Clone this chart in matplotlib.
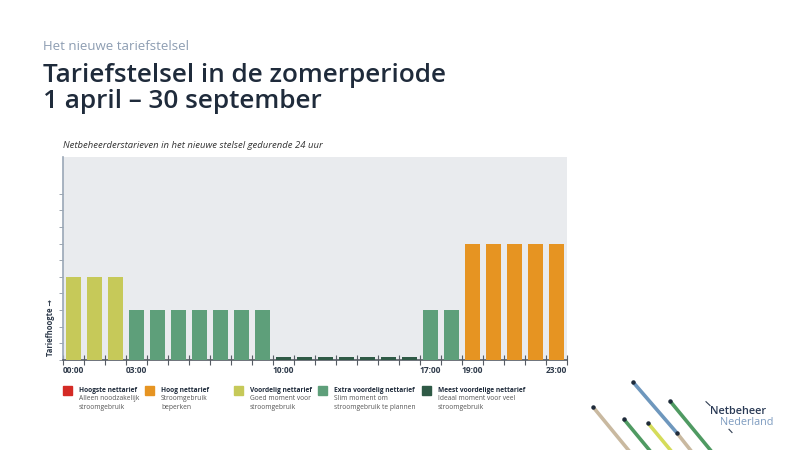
import matplotlib

matplotlib.use("Agg")
import matplotlib.pyplot as plt  # noqa: E402
from matplotlib.lines import Line2D  # noqa: E402

# tariff level per hour of the day (arbitrary units)
hours = list(range(24))
tariff = [5, 5, 5, 3, 3, 3, 3, 3, 3, 3,
          0.2, 0.2, 0.2, 0.2, 0.2, 0.2, 0.2,
          3, 3, 7, 7, 7, 7, 7]
category = ["voordelig"] * 3 + ["extra"] * 7 + ["meest"] * 7 + ["extra"] * 2 + ["hoog"] * 5

tick_hours = [0, 3, 10, 17, 19, 23]
tick_labels = ["00:00", "03:00", "10:00", "17:00", "19:00", "23:00"]

legend_keys = ["hoogste", "hoog", "voordelig", "extra", "meest"]
legend_titles = ["Hoogste nettarief", "Hoog nettarief", "Voordelig nettarief",
                 "Extra voordelig nettarief", "Meest voordelige nettarief"]
legend_texts = ["Alleen noodzakelijk\nstroomgebruik", "Stroomgebruik\nbeperken",
                "Goed moment voor\nstroomgebruik", "Slim moment om\nstroomgebruik te plannen",
                "Ideaal moment voor veel\nstroomgebruik"]

COLORS = {"hoogste": "#d42a25", "hoog": "#e69422", "voordelig": "#c6c959",
          "extra": "#5e9f7a", "meest": "#2f5a46"}
NAVY = "#1f2b3b"
FONT = ["Open Sans", "DejaVu Sans"]

plt.rcParams["font.family"] = FONT

fig = plt.figure(figsize=(8, 4.5), dpi=100)
fig.patch.set_facecolor("white")

fig.text(43 / 800, 1 - 46 / 450, "Het nieuwe tariefstelsel", color="#8d9db2",
         fontsize=9.5, va="center")
fig.text(43 / 800, 1 - 75 / 450, "Tariefstelsel in de zomerperiode", color=NAVY,
         fontsize=18.8, fontweight="semibold", va="center")
fig.text(43 / 800, 1 - 102 / 450, "1 april \u2013 30 september", color=NAVY,
         fontsize=18.8, fontweight="semibold", va="center")
fig.text(63 / 800, 1 - 145 / 450,
         "Netbeheerderstarieven in het nieuwe stelsel gedurende 24 uur",
         color="#333", fontsize=6.8, style="italic", va="center")

ax = fig.add_axes([63 / 800, 1 - 360 / 450, 504 / 800, 203 / 450])
ax.set_facecolor("#e9ebee")
ax.bar([h + 0.5 for h in hours], tariff, width=0.68,
       color=[COLORS[c] for c in category], zorder=3)
ax.set_xlim(0, 24)
ax.set_ylim(0, 12.2)

ax.set_xticks(range(25))
ax.set_xticklabels([])
ax.set_xticks([h + 0.5 for h in tick_hours], minor=True)
ax.set_xticklabels(tick_labels, minor=True)
ax.tick_params(axis="x", which="major", direction="inout", length=7, width=0.8,
               color="#555b63")
ax.tick_params(axis="x", which="minor", length=0, pad=4, labelsize=6,
               labelcolor="#2e3a4a")
for t in ax.get_xticklabels(minor=True):
    t.set_fontweight("bold")

ax.set_yticks(range(0, 11))
ax.set_yticklabels([])
ax.tick_params(axis="y", direction="out", length=3, width=0.6, color="#8d97a3")

for s in ("top", "right"):
    ax.spines[s].set_visible(False)
ax.spines["left"].set_color("#9aa7b6")
ax.spines["left"].set_linewidth(1.2)
ax.spines["bottom"].set_color("#555b63")
ax.spines["bottom"].set_linewidth(1.2)

ax.set_ylabel("Tariefhoogte \u2192", fontsize=5.5, fontweight="bold", color="#2e3a4a",
              loc="bottom")
ax.yaxis.set_label_coords(-0.016, 0.02)

# legend row
leg_x = [63, 145, 234, 318, 422]
for x, key, title, txt in zip(leg_x, legend_keys, legend_titles, legend_texts):
    fig.patches.append(plt.Rectangle((x / 800, 1 - 395 / 450), 9 / 800, 9 / 450,
                                     transform=fig.transFigure, color=COLORS[key]))
    fig.text((x + 16) / 800, 1 - 390 / 450, title, fontsize=4.8, fontweight="bold",
             color=NAVY, va="center")
    fig.text((x + 16) / 800, 1 - 395 / 450, txt, fontsize=4.8, color="#555",
             va="top", linespacing=1.35)

# logo strokes (decorative)
strokes = [((632.7, 381.7), (676.7, 432.7), "#6e97bd"),
           ((676.7, 432.7), (692, 452), "#c9b9a0"),
           ((670, 401), (712, 452), "#4f9a62"),
           ((593.3, 407.3), (630, 452), "#c9b9a0"),
           ((623.7, 419), (651, 452), "#4f9a62"),
           ((647.7, 422.7), (672, 452), "#d5dc5a")]
for (x0, y0), (x1, y1), c in strokes:
    fig.add_artist(Line2D([x0 / 800, x1 / 800], [1 - y0 / 450, 1 - y1 / 450],
                          transform=fig.transFigure, color=c, lw=2.6,
                          solid_capstyle="butt"))
    fig.add_artist(Line2D([x0 / 800], [1 - y0 / 450], transform=fig.transFigure,
                          marker="o", ms=2.2, color="#1f2b3b"))
for (x0, y0), (x1, y1) in [((706, 401.7), (710, 405.5)), ((729, 429.3), (732, 432.5))]:
    fig.add_artist(Line2D([x0 / 800, x1 / 800], [1 - y0 / 450, 1 - y1 / 450],
                          transform=fig.transFigure, color="#2f3d52", lw=0.8))
fig.text(710 / 800, 1 - 411 / 450, "Netbeheer", fontsize=7.8, fontweight="semibold",
         color="#2a3a55", va="center")
fig.text(720 / 800, 1 - 422.5 / 450, "Nederland", fontsize=7.8, color="#7e9cc0",
         va="center")

fig.savefig("out.png", dpi=100, facecolor="white")
